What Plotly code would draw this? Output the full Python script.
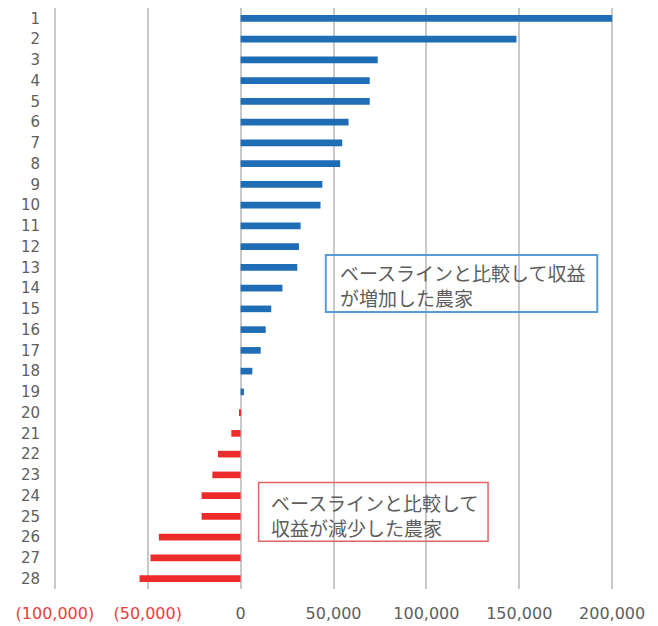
import plotly.graph_objects as go

farms = [str(i) for i in range(1, 29)]
values = [200000, 148500, 73800, 69500, 69500, 58100, 54700, 53600, 44000, 43000,
          32300, 31400, 30500, 22500, 16500, 13500, 10800, 6300, 1800, -400,
          -5000, -12200, -15200, -21000, -21000, -44000, -48500, -54400]
tick_vals = [-100000, -50000, 0, 50000, 100000, 150000, 200000]
tick_text = ["(100,000)", "(50,000)", "0", "50,000", "100,000", "150,000", "200,000"]
note_up = "ベースラインと比較して収益<br>が増加した農家"
note_down = "ベースラインと比較して<br>収益が減少した農家"

BLUE = "#1f6db5"
RED = "#ee2b2b"
GRAY_TXT = "#5e5e5e"
RED_TXT = "#e8403a"

colors = [BLUE if v >= 0 else RED for v in values]
tick_labels = [
    f"<span style='color:{RED_TXT}'>{t}</span>" if v < 0 else t
    for v, t in zip(tick_vals, tick_text)
]

fig = go.Figure(go.Bar(
    x=values, y=farms, orientation="h",
    marker=dict(color=colors, line=dict(width=0)),
))

note_font = dict(family="Noto Sans CJK JP", size=19, color=GRAY_TXT)

fig.update_layout(
    width=650, height=618,
    margin=dict(l=45, r=44, t=0, b=37),
    paper_bgcolor="white", plot_bgcolor="white",
    bargap=0.68,
    showlegend=False,
    font=dict(family="DejaVu Sans", size=15, color=GRAY_TXT),
    xaxis=dict(
        range=[-101000, 201000],
        tickvals=tick_vals, ticktext=tick_labels,
        showgrid=True, gridcolor="#c9c9c9", gridwidth=2,
        zeroline=True, zerolinecolor="#c9c9c9", zerolinewidth=2,
        showline=False, ticks="",
        tickfont=dict(size=16, color=GRAY_TXT),
        ticklabelstandoff=13,
    ),
    yaxis=dict(
        autorange="reversed",
        showgrid=False, showline=False, ticks="",
        tickfont=dict(size=15, color=GRAY_TXT),
        ticklabelstandoff=12,
    ),
    shapes=[
        dict(type="rect", xref="x", yref="paper",
             x0=45850, x1=192000, y0=0.4768, y1=0.5748,
             line=dict(color="#5b9bd5", width=2), fillcolor="rgba(0,0,0,0)"),
        dict(type="rect", xref="x", yref="paper",
             x0=9700, x1=133200, y0=0.0820, y1=0.1834,
             line=dict(color="#e06666", width=1.5), fillcolor="rgba(0,0,0,0)"),
    ],
    annotations=[
        dict(xref="x", yref="paper", x=52300, y=0.5225,
             xanchor="left", yanchor="middle", text=note_up,
             showarrow=False, align="left", font=note_font),
        dict(xref="x", yref="paper", x=15100, y=0.1279,
             xanchor="left", yanchor="middle", text=note_down,
             showarrow=False, align="left", font=note_font),
    ],
)

fig.write_html("out.html")
